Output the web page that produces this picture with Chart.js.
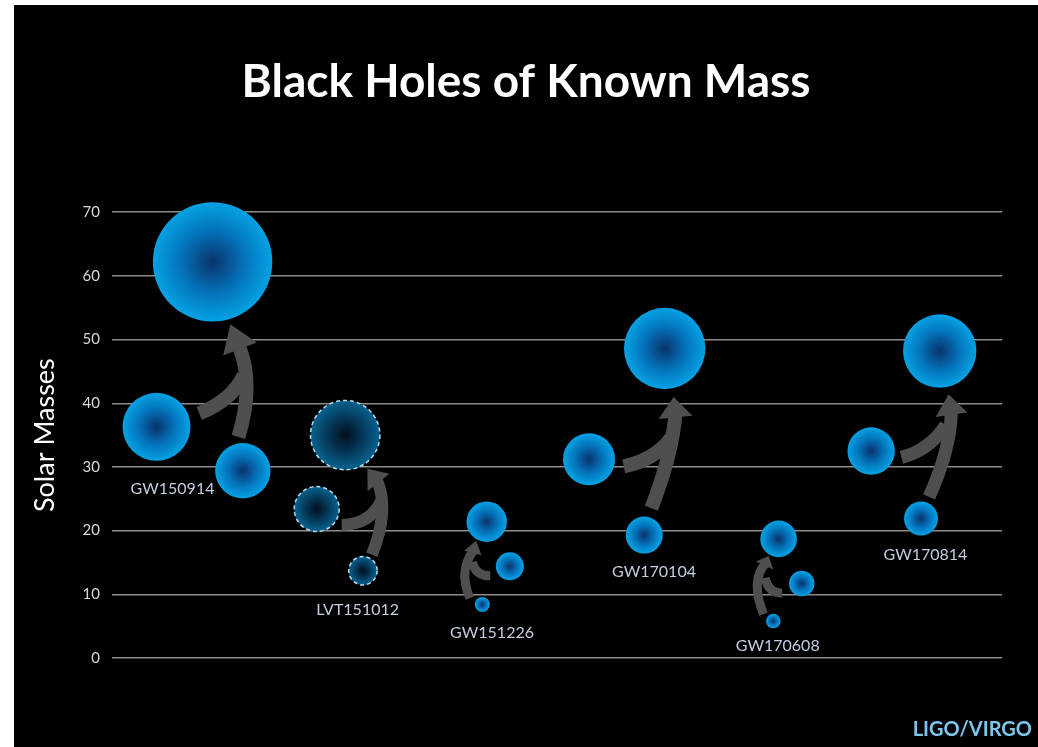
<!DOCTYPE html>
<html>
<head>
<meta charset="utf-8">
<title>Black Holes of Known Mass</title>
<script src="https://cdn.jsdelivr.net/npm/chart.js@4.4.1/dist/chart.umd.min.js"></script>
<style>
  body { margin: 0; background: #fff; }
  #frame { position: absolute; left: 14px; top: 5px; width: 1024px; height: 742px; background: #000; }
  #credit { position: absolute; right: 6px; top: 713px; font: bold 20px Lato, sans-serif; line-height: 1; color: #7cc6ee; }
</style>
</head>
<body>
<div id="frame">
  <canvas id="chart" width="1024" height="742"></canvas>
  <div id="credit">LIGO/VIRGO</div>
</div>
<script>
// events, in the order they appear left to right
const eventNames = ['GW150914', 'LVT151012', 'GW151226', 'GW170104', 'GW170608', 'GW170814'];
const candidate = [false, true, false, false, false, false];

// masses in solar masses
const heavierMass = [36.3, 23.4, 14.4, 31.2, 11.7, 32.5];
const lighterMass = [29.4, 13.7, 8.4, 19.3, 5.8, 21.9];
const finalMass = [62.2, 35.0, 21.4, 48.6, 18.7, 48.2];

// place of each hole along the hidden x axis (0-100)
const heavierX = [5.0, 23.0, 44.7, 53.6, 77.5, 85.3];
const lighterX = [14.7, 28.2, 41.6, 59.8, 74.3, 90.9];
const finalX = [11.3, 26.2, 42.1, 62.1, 74.9, 93.0];

// bubble size (radius) as drawn
const heavierSize = [34, 22.5, 14, 26, 12.7, 23.7];
const lighterSize = [27.7, 14.2, 7.5, 18.5, 7.3, 17];
const finalSize = [59.7, 34.7, 20.2, 40.7, 18.3, 36.7];

const yTicks = [0, 10, 20, 30, 40, 50, 60, 70];

// where the event names sit (data units)
const labelX = [6.8, 27.6, 42.7, 60.9, 74.8, 91.4];
const labelY = [26.6, 7.5, 4.0, 13.6, 1.9, 16.2];

// merger arrows in data units: trunk and arm are quadratic curves [start, control, end]
const mergerArrows = [
  { trunk: [[14.2, 34.7], [16.0, 42.9], [14.3, 48.8]], arm: [[9.8, 38.4], [13.5, 40.5], [14.8, 44.4]], tip: [13.3, 52.4], width: 14, head: 18 },
  { trunk: [[29.2, 16.2], [31.2, 23.2], [29.8, 27.8]], arm: [[25.8, 20.9], [29.0, 20.9], [30.3, 24.8]], tip: [28.7, 29.7], width: 12, head: 14 },
  { trunk: [[40.2, 9.4], [38.9, 13.8], [40.6, 16.8]], arm: [[42.5, 12.9], [40.8, 12.9], [40.5, 15.1]], tip: [40.9, 18.4], width: 9, head: 9 },
  { trunk: [[60.6, 23.5], [62.9, 31.9], [63.3, 38.1]], arm: [[57.5, 30.1], [61.0, 31.1], [62.8, 34.5]], tip: [63.1, 41.0], width: 14, head: 17 },
  { trunk: [[73.2, 6.9], [71.7, 12.2], [73.4, 14.8]], arm: [[75.3, 10.2], [73.7, 10.2], [73.4, 12.6]], tip: [73.8, 16.0], width: 9, head: 9.5 },
  { trunk: [[91.8, 25.3], [94.2, 32.7], [94.3, 38.5]], arm: [[88.7, 31.5], [91.9, 32.7], [93.7, 36.6]], tip: [94.0, 41.4], width: 13, head: 16 }
];

/**
 * radial blue fill for each hole, dark in the middle
 */
function holeFill(c) {
  const cand = c.dataset && c.dataset.candidate;
  const stops = cand ? ['#020f1c', '#053b5e', '#07638e'] : ['#0a336c', '#0475bd', '#05a2e4'];
  if (c.type !== 'data') return stops[2];
  const xs = c.chart.scales.x, ys = c.chart.scales.y;
  const cx = xs.getPixelForValue(c.raw.x), cy = ys.getPixelForValue(c.raw.y);
  if (!isFinite(cx) || !isFinite(cy)) return stops[2];
  const g = c.chart.ctx.createRadialGradient(cx, cy, 0, cx, cy, c.raw.r);
  g.addColorStop(0, stops[0]);
  g.addColorStop(0.55, stops[1]);
  g.addColorStop(1, stops[2]);
  return g;
}

const datasets = eventNames.map((name, i) => ({
  label: name,
  candidate: candidate[i],
  data: [
    { x: heavierX[i], y: heavierMass[i], r: heavierSize[i] },
    { x: lighterX[i], y: lighterMass[i], r: lighterSize[i] },
    { x: finalX[i], y: finalMass[i], r: finalSize[i] }
  ],
  backgroundColor: holeFill,
  borderColor: '#b8dcf0',
  borderWidth: candidate[i] ? 1.5 : 0,
  clip: false
}));

const arrowPlugin = {
  id: 'mergers',
  beforeDatasetsDraw(chart) {
    const ctx = chart.ctx, x = chart.scales.x, y = chart.scales.y;
    const px = p => [x.getPixelForValue(p[0]), y.getPixelForValue(p[1])];
    ctx.save();
    ctx.strokeStyle = '#4f4f4f';
    ctx.fillStyle = '#4f4f4f';
    ctx.lineCap = 'butt';
    mergerArrows.forEach(a => {
      ctx.lineWidth = a.width;
      [a.trunk, a.arm].forEach(seg => {
        const [s, c, e] = seg.map(px);
        ctx.beginPath();
        ctx.moveTo(s[0], s[1]);
        ctx.quadraticCurveTo(c[0], c[1], e[0], e[1]);
        ctx.stroke();
      });
      const e = px(a.trunk[2]), t = px(a.tip);
      const dx = t[0] - e[0], dy = t[1] - e[1], len = Math.hypot(dx, dy);
      const bx = e[0] - dx / len * 2, by = e[1] - dy / len * 2;
      const nx = -dy / len * a.head, ny = dx / len * a.head;
      ctx.beginPath();
      ctx.moveTo(t[0], t[1]);
      ctx.lineTo(bx + nx, by + ny);
      ctx.lineTo(bx - nx, by - ny);
      ctx.closePath();
      ctx.fill();
    });
    ctx.restore();
  }
};

// dashed outline for the candidate event
const dashPlugin = {
  id: 'dashes',
  beforeDatasetDraw(chart, args) {
    if (chart.data.datasets[args.index].candidate) chart.ctx.setLineDash([4, 3]);
  },
  afterDatasetDraw(chart) {
    chart.ctx.setLineDash([]);
  }
};

const labelPlugin = {
  id: 'eventNames',
  afterDatasetsDraw(chart) {
    const ctx = chart.ctx, x = chart.scales.x, y = chart.scales.y;
    ctx.save();
    ctx.font = '16px Lato, sans-serif';
    ctx.fillStyle = '#c4cde0';
    ctx.textAlign = 'center';
    ctx.textBaseline = 'middle';
    eventNames.forEach((name, i) => {
      ctx.fillText(name, x.getPixelForValue(labelX[i]), y.getPixelForValue(labelY[i]));
    });
    ctx.restore();
  }
};

new Chart(document.getElementById('chart'), {
  type: 'bubble',
  data: { datasets: datasets },
  options: {
    responsive: false,
    animation: false,
    events: [],
    layout: { autoPadding: false, padding: { left: 0, right: 0, top: 0, bottom: 89 } },
    plugins: {
      legend: { display: false },
      tooltip: { enabled: false },
      title: {
        display: true,
        text: 'Black Holes of Known Mass',
        color: '#fff',
        font: { family: 'Lato', size: 46, weight: 'bold' },
        padding: { top: 50, bottom: 102 }
      }
    },
    scales: {
      x: { type: 'linear', min: 0, max: 100, display: false },
      y: {
        min: 0,
        max: 70,
        afterFit(scale) { scale.width = 98; },
        afterBuildTicks(scale) { scale.ticks = yTicks.map(v => ({ value: v })); },
        border: { display: false },
        grid: { color: '#8c8c8c', lineWidth: 1.5, drawTicks: false },
        ticks: { color: '#d9d9d9', font: { family: 'Lato', size: 15 }, padding: 12 },
        title: {
          display: true,
          text: 'Solar Masses',
          color: '#fff',
          font: { family: 'Lato', size: 27 },
          padding: { top: 15, bottom: 0 }
        }
      },
      // empty right-hand margin
      yRight: {
        position: 'right',
        afterFit(scale) { scale.width = 36; },
        grid: { display: false },
        border: { display: false },
        ticks: { display: false }
      }
    }
  },
  plugins: [arrowPlugin, dashPlugin, labelPlugin]
});
</script>
</body>
</html>
